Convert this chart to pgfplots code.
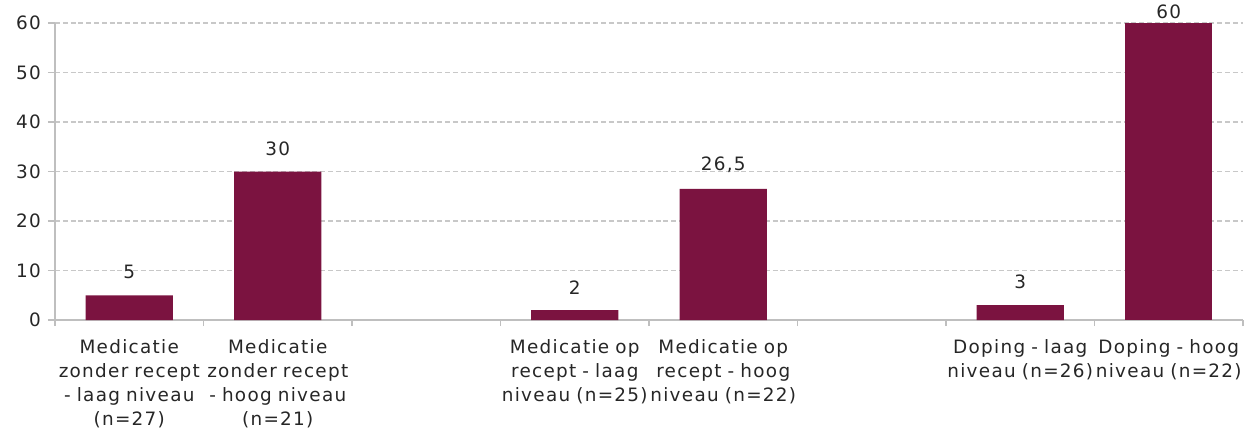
\documentclass[border=0pt]{standalone}
\usepackage{fontspec}
\setmainfont{DejaVu Sans}[LetterSpace=7]
\usepackage{pgfplots}
\pgfplotsset{compat=1.18}
\definecolor{barc}{HTML}{7B1340}
\definecolor{gridc}{HTML}{C8C8C8}
\definecolor{axc}{HTML}{BFBFBF}
\definecolor{txt}{HTML}{262626}
\begin{document}
\begin{tikzpicture}
\begin{axis}[
  name=ax,
  scale only axis,
  width=594pt, height=148.5pt,
  xmin=-0.5, xmax=7.5,
  ymin=0, ymax=60,
  ytick={0,10,...,60},
  xtick={0,1,2,3,4,5,6,7},
  xticklabels={
    {Medicatie\\zonder recept\\- laag niveau\\(n=27)},
    {Medicatie\\zonder recept\\- hoog niveau\\(n=21)},
    {},
    {Medicatie op\\recept - laag\\niveau (n=25)},
    {Medicatie op\\recept - hoog\\niveau (n=22)},
    {},
    {Doping - laag\\niveau (n=26)},
    {Doping - hoog\\niveau (n=22)}},
  minor xtick={-0.5,0.5,...,7.5},
  major x tick style={draw=none},
  minor x tick style={draw=axc, line width=0.8pt},
  minor tick length=3pt,
  ytick style={draw=axc, line width=0.8pt},
  major tick length=3.5pt,
  tick align=outside,
  axis x line*=bottom,
  axis y line*=left,
  axis line style={draw=axc, line width=0.8pt, -},
  ymajorgrids,
  grid style={draw=gridc, dash pattern=on 2.5pt off 1.4pt, line width=0.6pt},
  xticklabel style={align=center, text width=80pt, font=\fontsize{9.2}{12}\selectfont, text=txt, inner sep=0pt, yshift=-6pt},
  yticklabel style={font=\fontsize{9.2}{10}\selectfont, text=txt},
  /pgf/number format/assume math mode=true,
  /pgf/number format/use comma,
  ybar,
  bar width=0.586,
  bar shift=0pt,
  nodes near coords,
  nodes near coords style={font=\fontsize{9.2}{10}\selectfont, text=txt, /pgf/number format/use comma, /pgf/number format/assume math mode=true},
  clip=false,
]
\addplot[fill=barc, draw=none, nodes near coords style={yshift=4.5pt}] coordinates {(0,5) (1,30) (3,2) (4,26.5) (6,3)};
\addplot[fill=barc, draw=none, nodes near coords style={yshift=-1.5pt}] coordinates {(7,60)};
\end{axis}
\pgfresetboundingbox
\path ([shift={(-27.5pt,-55pt)}]ax.south west) rectangle ([shift={(1pt,11.5pt)}]ax.north east);
\end{tikzpicture}
\end{document}
